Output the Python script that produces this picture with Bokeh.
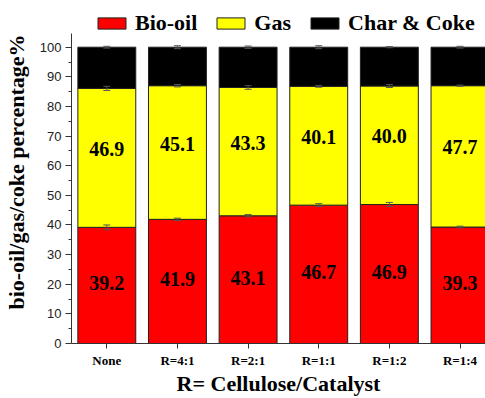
import numpy as np
from bokeh.plotting import figure
from bokeh.models import (ColumnDataSource, Range1d, FixedTicker, Whisker,
                          TeeHead, Legend, LegendItem)
from bokeh.core.properties import value
from bokeh.embed import file_html
from bokeh.resources import INLINE

# Product distribution (wt%) for each cellulose/catalyst ratio
conditions = ["None", "R=4:1", "R=2:1", "R=1:1", "R=1:2", "R=1:4"]
bio_oil = [39.2, 41.9, 43.1, 46.7, 46.9, 39.3]
gas = [46.9, 45.1, 43.3, 40.1, 40.0, 47.7]
char_coke = [13.9, 13.0, 13.6, 13.2, 13.1, 13.0]

# Standard deviations of each fraction
bio_err = [0.8, 0.4, 0.4, 0.5, 0.7, 0.3]
gas_err = [0.7, 0.4, 0.6, 0.3, 0.5, 0.2]
char_err = [0.3, 0.5, 0.4, 0.5, 0.2, 0.3]

y_ticks = list(range(0, 101, 10))

SERIF = "Liberation Serif"
SANS = "Liberation Sans"

# plot frame geometry (pixels)
FRAME_H = 343
Y_END = 115.76

x = np.arange(1, len(conditions) + 1)
bio_top = np.array(bio_oil)
gas_top = bio_top + np.array(gas)
char_top = gas_top + np.array(char_coke)

src = ColumnDataSource(dict(
    x=x,
    zero=np.zeros(len(x)),
    bio_top=bio_top, gas_top=gas_top, char_top=char_top,
    bio_mid=bio_top / 2, gas_mid=(bio_top + gas_top) / 2,
    bio_lab=[f"{v:.1f}" for v in bio_oil],
    gas_lab=[f"{v:.1f}" for v in gas],
    bio_lo=bio_top - np.array(bio_err), bio_hi=bio_top + np.array(bio_err),
    gas_lo=gas_top - np.array(gas_err), gas_hi=gas_top + np.array(gas_err),
    char_lo=char_top - np.array(char_err), char_hi=char_top + np.array(char_err),
))

x_range = Range1d(0.5, 6.361)
p = figure(width=485, height=398,
           x_range=x_range, y_range=Range1d(0, Y_END),
           output_backend="svg", toolbar_location=None,
           min_border_left=70, min_border_right=0,
           min_border_top=0, min_border_bottom=398 - FRAME_H)
p.outline_line_color = None
p.xgrid.visible = False
p.ygrid.visible = False

bar_w = 0.82
edge = "#222222"
r_bio = p.vbar(x="x", bottom="zero", top="bio_top", width=bar_w, source=src,
               fill_color="#ff0000", line_color=edge, line_width=1)
r_gas = p.vbar(x="x", bottom="bio_top", top="gas_top", width=bar_w, source=src,
               fill_color="#ffff00", line_color=edge, line_width=1)
r_char = p.vbar(x="x", bottom="gas_top", top="char_top", width=bar_w, source=src,
                fill_color="#000000", line_color=edge, line_width=1)

# error bars on the top of each stacked segment
for lo, hi in (("bio_lo", "bio_hi"), ("gas_lo", "gas_hi"), ("char_lo", "char_hi")):
    w = Whisker(source=src, base="x", lower=lo, upper=hi,
                line_color="#555555", line_width=1, level="overlay",
                upper_head=TeeHead(size=7, line_color="#555555", line_width=1),
                lower_head=TeeHead(size=7, line_color="#555555", line_width=1))
    p.add_layout(w)

# value labels inside the segments
common = dict(source=src, text_font=value(SERIF), text_font_style="bold",
              text_font_size="20px", text_align="center",
              text_baseline="middle", text_color="#000000")
p.text(x="x", y="bio_mid", text="bio_lab", y_offset=-2, **common)
p.text(x="x", y="gas_mid", text="gas_lab", y_offset=-9, **common)

# y axis
ya = p.yaxis[0]
ya.bounds = (0, 104.7)
ya.ticker = FixedTicker(ticks=y_ticks, minor_ticks=[v + 5 for v in y_ticks[:-1]])
ya.axis_label = "bio-oil/gas/coke percentage%"
ya.axis_label_text_font = SERIF
ya.axis_label_text_font_style = "bold"
ya.axis_label_text_font_size = "22px"
ya.axis_label_text_color = "#000000"
ya.axis_label_standoff = 8
ya.major_label_text_font = SANS
ya.major_label_text_font_size = "13px"
ya.major_label_text_color = "#222222"
ya.major_label_standoff = 4
ya.major_tick_out = 6
ya.major_tick_in = 0
ya.minor_tick_out = 3
ya.minor_tick_in = 0
ya.axis_line_color = "#333333"
ya.major_tick_line_color = "#333333"
ya.minor_tick_line_color = "#333333"

# x axis
xa = p.xaxis[0]
xa.ticker = FixedTicker(ticks=list(x))
xa.major_label_overrides = {int(i): c for i, c in zip(x, conditions)}
xa.axis_label = "R= Cellulose/Catalyst"
xa.axis_label_text_font = SERIF
xa.axis_label_text_font_style = "bold"
xa.axis_label_text_font_size = "22px"
xa.axis_label_text_color = "#000000"
xa.axis_label_standoff = 0
xa.major_label_text_font = SERIF
xa.major_label_text_font_style = "bold"
xa.major_label_text_font_size = "13px"
xa.major_label_text_color = "#000000"
xa.major_label_standoff = 4
xa.major_tick_out = 5
xa.major_tick_in = 0
xa.minor_tick_line_color = None
xa.axis_line_color = "#333333"
xa.major_tick_line_color = "#333333"

legend = Legend(items=[LegendItem(label="Bio-oil", renderers=[r_bio]),
                       LegendItem(label="Gas", renderers=[r_gas]),
                       LegendItem(label="Char & Coke", renderers=[r_char])],
                location=(23, 307), orientation="horizontal",
                glyph_width=35, glyph_height=14, label_standoff=6,
                spacing=16, padding=0, margin=0,
                label_text_font=SERIF, label_text_font_style="bold",
                label_text_font_size="22px", label_text_color="#000000",
                border_line_color=None, background_fill_alpha=0)
p.add_layout(legend)

open("out.html", "w").write(file_html(p, INLINE))
